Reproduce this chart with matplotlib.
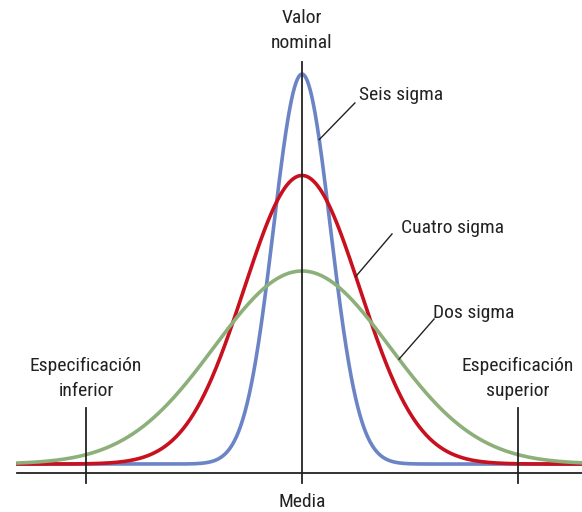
import numpy as np
import matplotlib.pyplot as plt

# datos de las curvas (unidades arbitrarias, media = 0)
nombres = ['Seis sigma', 'Cuatro sigma', 'Dos sigma']
sigmas = [0.79, 1.61, 2.44]
alturas = [1.0, 0.74, 0.495]
colores = ['#6b84c6', '#c8101e', '#8db07a']
lim_espec = [-6.0, 6.0]

fuente = ['Roboto Condensed', 'Liberation Sans Narrow', 'Roboto', 'DejaVu Sans']
plt.rcParams['font.family'] = fuente

fig = plt.figure(figsize=(5.82, 5.12), dpi=100)
ax = fig.add_axes([0, 0, 1, 1])
ax.set_xlim(-8.389, 7.778)
ax.set_ylim(-0.123, 1.19)
ax.axis('off')

x = np.linspace(-7.94, 7.78, 800)
for s, h, c in zip(sigmas, alturas, colores):
    ax.plot(x, h * np.exp(-0.5 * (x / s) ** 2), color=c, lw=2.6, solid_capstyle='butt')

# eje y lineas de referencia
ax.plot([-7.92, 7.78], [-0.023, -0.023], color='#222222', lw=1.3)
ax.plot([0, 0], [-0.049, 1.031], color='#222222', lw=1.3)
for xe in lim_espec:
    ax.plot([xe, xe], [-0.049, 0.144], color='#222222', lw=1.3)

fs = 14
kw = dict(fontsize=fs, color='#222222', ha='center', va='center')
ax.text(0, 1.144, 'Valor', **kw)
ax.text(0, 1.080, 'nominal', **kw)
ax.text(0, -0.097, 'Media', **kw)
ax.text(lim_espec[0], 0.251, 'Especificación', **kw)
ax.text(lim_espec[0], 0.187, 'inferior', **kw)
ax.text(lim_espec[1], 0.251, 'Especificación', **kw)
ax.text(lim_espec[1], 0.187, 'superior', **kw)

# etiquetas con lineas guia
etiq = [(1.58, 0.947, 1.47, 0.926, 0.832), (2.75, 0.605, 2.50, 0.590, 0.481),
        (3.63, 0.387, 3.67, 0.372, 0.269)]
for (xt, yt, x0, y0, y1), n, s, h in zip(etiq, nombres, sigmas, alturas):
    x1 = s * np.sqrt(-2 * np.log(y1 / h))
    ax.plot([x0, x1], [y0, y1], color='#222222', lw=1.0)
    ax.text(xt, yt, n, fontsize=fs, color='#222222', ha='left', va='center')

fig.savefig('out.png', dpi=100)
